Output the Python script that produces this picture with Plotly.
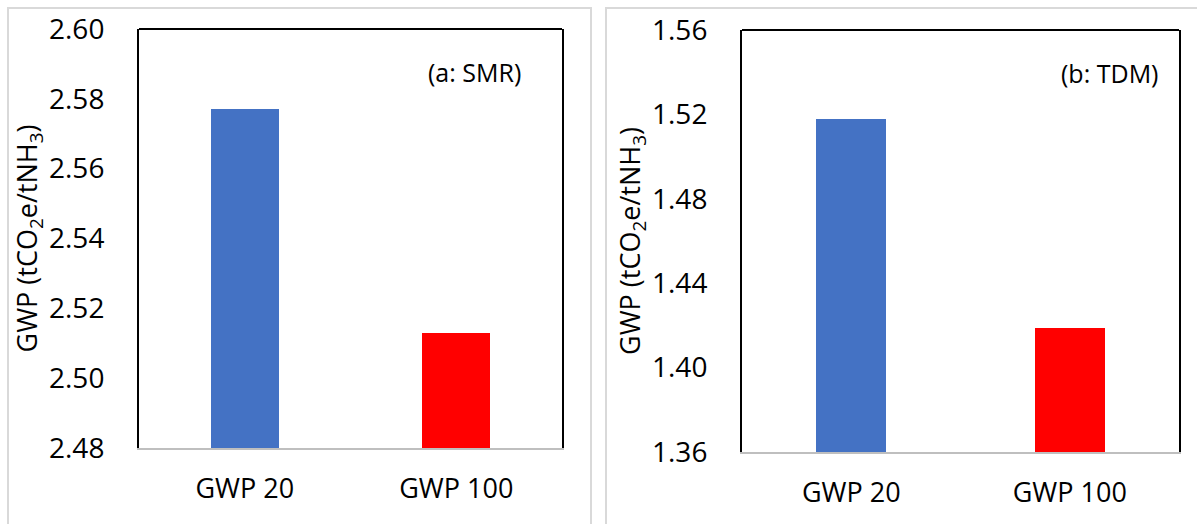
import plotly.graph_objects as go

categories = ["GWP 20", "GWP 100"]
smr_values = [2.577, 2.513]
tdm_values = [1.518, 1.419]
bar_colors = ["#4472C4", "#FF0000"]
smr_ticks = [2.48, 2.50, 2.52, 2.54, 2.56, 2.58, 2.60]
tdm_ticks = [1.36, 1.40, 1.44, 1.48, 1.52, 1.56]
panel_labels = ["(a: SMR)", "(b: TDM)"]
y_title = "GWP (tCO<sub>2</sub>e/tNH<sub>3</sub>)"

W, H = 1197, 524
FONT = "Open Sans"

fig = go.Figure()
fig.add_trace(go.Bar(x=categories, y=smr_values, marker=dict(color=bar_colors, line=dict(width=0)),
                     width=0.32, xaxis="x", yaxis="y", showlegend=False))
fig.add_trace(go.Bar(x=categories, y=tdm_values, marker=dict(color=bar_colors, line=dict(width=0)),
                     width=0.32, xaxis="x2", yaxis="y2", showlegend=False))

def px_x(v):
    return v / W

def px_y(v):
    return 1 - v / H

common_x = dict(showline=True, linecolor="#BFBFBF", linewidth=2, mirror=False, showgrid=False,
                ticks="", tickfont=dict(family=FONT, size=27, color="black"),
                ticklabelstandoff=16, fixedrange=True, automargin=False)
common_y = dict(showline=True, linecolor="black", linewidth=2, mirror=True, showgrid=False,
                zeroline=False, ticks="", tickfont=dict(family=FONT, size=28, color="black"),
                ticklabelstandoff=27, fixedrange=True, automargin=False,
                title=dict(text=y_title, font=dict(family=FONT, size=27, color="black"), standoff=2))

fig.update_layout(
    width=W, height=H,
    margin=dict(l=0, r=0, t=0, b=0, pad=0),
    paper_bgcolor="white", plot_bgcolor="white",
    bargap=0,
    xaxis=dict(domain=[px_x(139), px_x(562)], anchor="y", **common_x),
    yaxis=dict(domain=[px_y(448), px_y(29)], anchor="x", range=[smr_ticks[0], smr_ticks[-1]],
               tickvals=smr_ticks, ticktext=[f"{t:.2f}" for t in smr_ticks], **common_y),
    xaxis2=dict(domain=[px_x(742), px_x(1179)], anchor="y2", **common_x),
    yaxis2=dict(domain=[px_y(452), px_y(30)], anchor="x2", range=[tdm_ticks[0], tdm_ticks[-1]],
                tickvals=tdm_ticks, ticktext=[f"{t:.2f}" for t in tdm_ticks], **common_y),
)

shapes = []
# outer panel frames (light gray)
shapes.append(dict(type="rect", xref="paper", yref="paper", x0=px_x(8), x1=px_x(591),
                   y0=-0.1, y1=px_y(8), line=dict(color="#D9D9D9", width=2), layer="below"))
shapes.append(dict(type="rect", xref="paper", yref="paper", x0=px_x(606), x1=1.1,
                   y0=-0.1, y1=px_y(8), line=dict(color="#D9D9D9", width=2), layer="below"))
# top border of plot areas
for xr, yr in [("x domain", "y domain"), ("x2 domain", "y2 domain")]:
    shapes.append(dict(type="line", xref=xr, yref=yr, x0=0, x1=1, y0=1, y1=1,
                       line=dict(color="black", width=2)))
fig.update_layout(shapes=shapes)

fig.add_annotation(text=panel_labels[0], xref="x domain", yref="y domain", x=0.908, y=0.897,
                   xanchor="right", yanchor="middle", showarrow=False,
                   font=dict(family=FONT, size=25, color="black"))
fig.add_annotation(text=panel_labels[1], xref="x2 domain", yref="y2 domain", x=0.959, y=0.898,
                   xanchor="right", yanchor="middle", showarrow=False,
                   font=dict(family=FONT, size=25, color="black"))

fig.write_html("out.html")
